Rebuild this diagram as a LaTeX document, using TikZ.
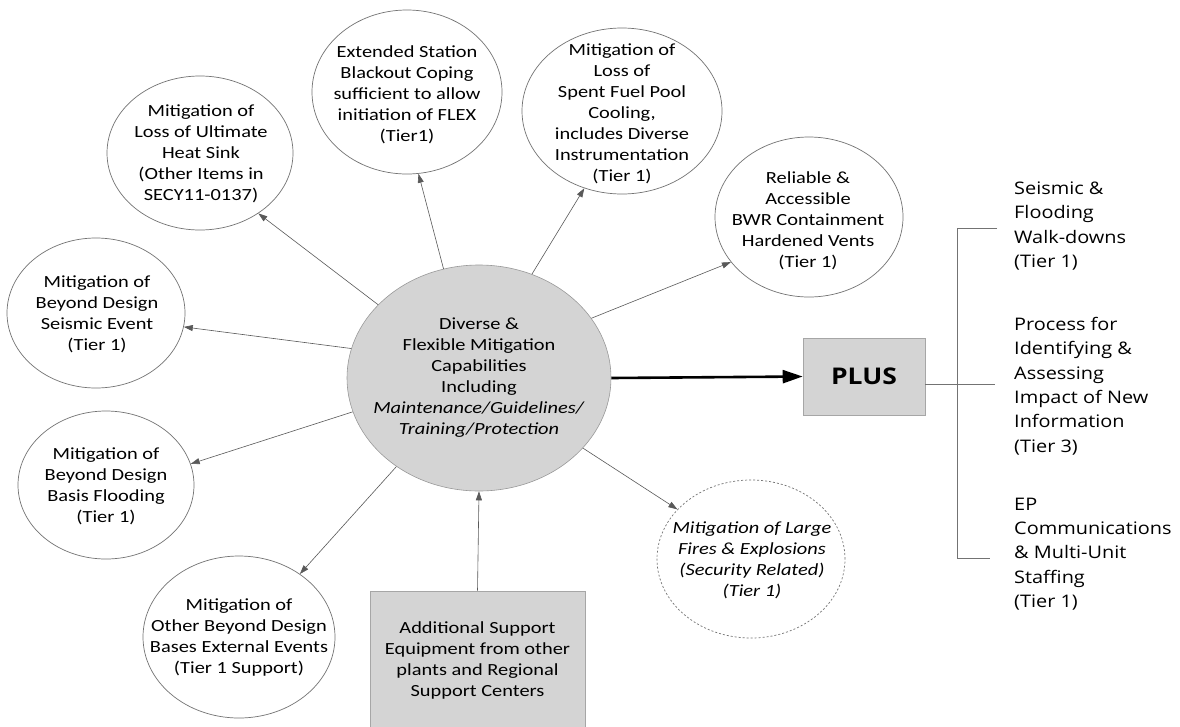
\documentclass[tikz,border=0pt]{standalone}
\usepackage{fontspec}
\setmainfont{Carlito}[FakeStretch=1.2]
\newfontfamily\osans{Open Sans}[FakeStretch=1.15]
\usetikzlibrary{shapes.geometric,arrows.meta}
\begin{document}
\begin{tikzpicture}[x=1pt,y=-1pt,
  bub/.style={ellipse, draw=black!55, line width=0.7pt, inner sep=0pt},
  hub/.style={ellipse, draw=black!40, fill=black!17, line width=0.6pt, inner sep=0pt},
  gbox/.style={rectangle, draw=black!35, fill=black!17, line width=0.6pt, inner sep=0pt},
  txt/.style={align=center, inner sep=0pt, font=\fontsize{17}{21}\selectfont},
  rtxt/.style={align=left, anchor=west, inner sep=0pt, font=\osans\fontsize{17.3}{24.4}\selectfont},
  conn/.style={draw=black!65, line width=0.6pt, -{Triangle[length=9pt,width=6pt]}},
  bigarrow/.style={draw=black, line width=2.6pt, -{Triangle[length=20pt,width=13pt]}},
  brk/.style={draw=black!55, line width=0.7pt}]
\useasboundingbox (0,0) rectangle (1180,726);
\fill[white] (0,0) rectangle (1180,726);

% central hub
\node[hub, minimum width=264, minimum height=226] (ctr) at (479,378) {};
\node[txt] (ctrT) at (479,378) {Diverse \&\\Flexible Mitigation\\Capabilities\\Including\\\textit{Maintenance/Guidelines/}\\\textit{Training/Protection}};

% satellite bubbles
\node[bub, minimum width=186, minimum height=154] (ush) at (200,153) {};
\node[txt] (ushT) at (201,154) {Mitigation of\\Loss of Ultimate\\Heat Sink\\(Other Items in\\SECY11-0137)};

\node[bub, minimum width=190, minimum height=164] (ext) at (407,92) {};
\node[txt] (extT) at (407,95) {Extended Station\\Blackout Coping\\sufficient to allow\\initiation of FLEX\\(Tier1)};

\node[bub, minimum width=200, minimum height=166] (spf) at (622,111) {};
\node[txt] (spfT) at (622,114) {Mitigation of\\Loss of\\Spent Fuel Pool\\Cooling,\\includes Diverse\\Instrumentation\\(Tier 1)};

\node[bub, minimum width=188, minimum height=160] (rel) at (809,217) {};
\node[txt] (relT) at (808,221) {Reliable \&\\Accessible\\BWR Containment\\Hardened Vents\\(Tier 1)};

\node[bub, minimum width=178, minimum height=150] (sei) at (96,313) {};
\node[txt] (seiT) at (97,314) {Mitigation of\\Beyond Design\\Seismic Event\\(Tier 1)};

\node[bub, minimum width=176, minimum height=148] (flo) at (106,485) {};
\node[txt] (floT) at (106,486) {Mitigation of\\Beyond Design\\Basis Flooding\\(Tier 1)};

\node[bub, minimum width=192, minimum height=162] (oth) at (239,637) {};
\node[txt] (othT) at (239,637) {Mitigation of\\Other Beyond Design\\Bases External Events\\(Tier 1 Support)};

\node[bub, dash pattern=on 2pt off 2pt, minimum width=188, minimum height=158] (fir) at (751,559) {};
\node[txt, font=\fontsize{17}{21}\selectfont\itshape] (firT) at (752,560) {Mitigation of Large\\Fires \& Explosions\\(Security Related)\\(Tier 1)};

% boxes
\node[gbox, minimum width=122, minimum height=77, font=\osans\bfseries\fontsize{23}{26}\selectfont] (plus) at (864,376.5) {PLUS};
\node[gbox, minimum width=215, minimum height=146] (sup) at (477.5,664) {};
\node[txt] (supT) at (477.5,660) {Additional Support\\Equipment from other\\plants and Regional\\Support Centers};

% connectors
\draw[conn] (ctr.144.6) -- (ush.-46.8);
\draw[conn] (ctr.108.4) -- (ext.-82);
\draw[conn] (ctr.63.2) -- (spf.-116.3);
\draw[conn] (ctr.28.9) -- (rel.-150.7);
\draw[conn] (ctr.167.1) -- (sei.-9.6);
\draw[conn] (ctr.195.4) -- (flo.14.2);
\draw[conn] (ctr.227.6) -- (oth.46.3);
\draw[conn] (ctr.-34.2) -- (fir.146.5);
\draw[conn] (sup.north) -- (ctr.south);
\draw[bigarrow] (ctr.east) -- (plus.west);

% bracket
\coordinate (btop) at (957,228);
\coordinate (bbot) at (957,558);
\coordinate (ttop) at (997,228);
\coordinate (tbot) at (990,558);
\coordinate (tmid) at (995,384);
\draw[brk] (ttop) -- (btop) -- (bbot) -- (tbot);
\draw[brk] (plus.east |- tmid) -- (tmid);

% right column
\node[rtxt] (r1) at (1014,226) {Seismic \&\\Flooding\\Walk-downs\\(Tier 1)};
\node[rtxt] (r2) at (1014,386) {Process for\\Identifying \&\\Assessing\\Impact of New\\Information\\(Tier 3)};
\node[rtxt] (r3) at (1014,554) {EP\\Communications\\\& Multi-Unit\\Staffing\\(Tier 1)};
\end{tikzpicture}
\end{document}
